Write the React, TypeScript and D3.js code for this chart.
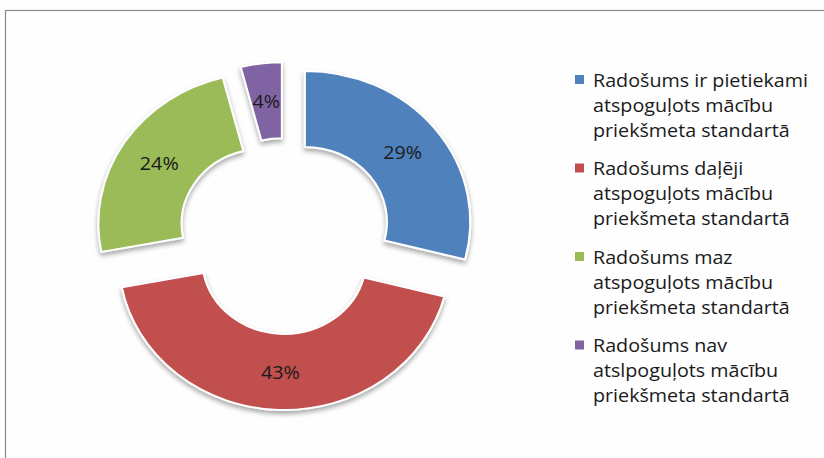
import React from "react";
import * as d3 from "d3";

const categories = [
  ["Radošums ir pietiekami", "atspoguļots mācību", "priekšmeta standartā"],
  ["Radošums daļēji", "atspoguļots mācību", "priekšmeta standartā"],
  ["Radošums maz", "atspoguļots mācību", "priekšmeta standartā"],
  ["Radošums nav", "atslpoguļots mācību", "priekšmeta standartā"],
];
const values = [29, 43, 24, 4];
const labels = ["29%", "43%", "24%", "4%"];
const colors = ["#4F81BD", "#C0504D", "#9BBB59", "#8064A2"];

const W = 824;
const H = 458;
const cx = 285;
const cy = 236;
const outerR = 151;
const innerR = 75;
const explode = 23;
const sx = 1.095;

export default function App() {
  const pie = d3.pie<number>().sort(null).value((d) => d)(values);
  const arc = d3.arc<d3.PieArcDatum<number>>().innerRadius(innerR).outerRadius(outerR);
  const font = "'Open Sans', 'DejaVu Sans', sans-serif";

  return (
    <svg width={W} height={H} style={{ position: "fixed", left: 0, top: 0, background: "#fefefe" }}>
      <defs>
        <filter id="sh" x="-20%" y="-20%" width="140%" height="150%">
          <feGaussianBlur in="SourceAlpha" stdDeviation="2.5" />
          <feOffset dx="0" dy="3" result="b" />
          <feComponentTransfer>
            <feFuncA type="linear" slope="0.35" />
          </feComponentTransfer>
          <feMerge>
            <feMergeNode />
            <feMergeNode in="SourceGraphic" />
          </feMerge>
        </filter>
      </defs>
      <rect x={0} y={0} width={W} height={H} fill="#fefefe" />
      <rect x={5.5} y={10.5} width={W + 10} height={H + 10} fill="#fefefe" stroke="#8a8a8a" strokeWidth={1.2} />
      <g transform={`translate(${cx},${cy}) scale(${sx},1)`}>
        {pie.map((p, i) => {
          const mid = (p.startAngle + p.endAngle) / 2;
          const dx = Math.sin(mid) * explode;
          const dy = -Math.cos(mid) * explode;
          return (
            <path
              key={i}
              d={arc(p) || ""}
              transform={`translate(${dx},${dy})`}
              fill={colors[i]}
              stroke="#ffffff"
              strokeWidth={2}
              vectorEffect="non-scaling-stroke"
              filter="url(#sh)"
            />
          );
        })}
      </g>
      {pie.map((p, i) => {
        const mid = (p.startAngle + p.endAngle) / 2;
        const rr = (innerR + outerR) / 2 + explode;
        const x = cx + sx * rr * Math.sin(mid);
        const y = cy - rr * Math.cos(mid);
        return (
          <text
            key={i}
            transform={`translate(${x},${y}) scale(${sx},1)`}
            textAnchor="middle"
            dominantBaseline="central"
            fontFamily={font}
            fontSize={18}
            fill="#1a1a1a"
          >
            {labels[i]}
          </text>
        );
      })}
      {categories.map((lines, i) => {
        const y0 = 80 + i * 88.5;
        return (
          <g key={i}>
            <rect x={575} y={y0 - 5} width={9} height={9} fill={colors[i]} />
            {lines.map((ln, j) => (
              <text
                key={j}
                transform={`translate(593,${y0 + j * 25}) scale(${sx},1)`}
                dominantBaseline="central"
                fontFamily={font}
                fontSize={18}
                fill="#1a1a1a"
              >
                {ln}
              </text>
            ))}
          </g>
        );
      })}
    </svg>
  );
}
